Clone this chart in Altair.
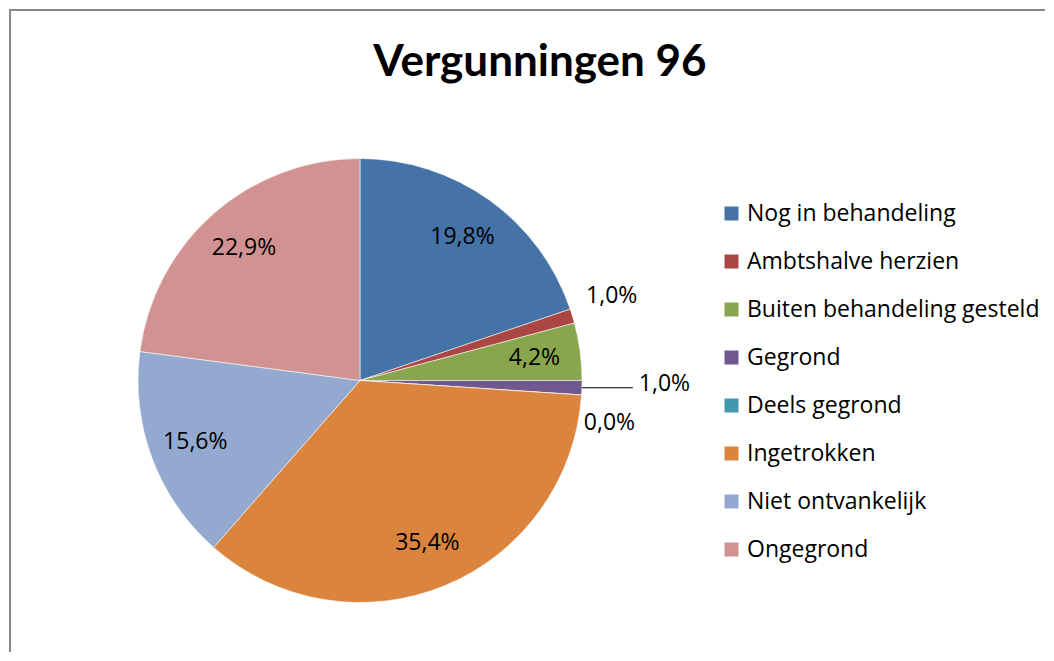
import altair as alt
import pandas as pd

categories = ["Nog in behandeling", "Ambtshalve herzien", "Buiten behandeling gesteld",
              "Gegrond", "Deels gegrond", "Ingetrokken", "Niet ontvankelijk", "Ongegrond"]
counts = [19, 1, 4, 1, 0, 34, 15, 22]
colors = ["#4572A7", "#AA4643", "#89A54E", "#71588F", "#4198AF", "#DB843D", "#93A9CF", "#D19392"]
title_text = "Vergunningen 96"

df = pd.DataFrame({"cat": categories, "count": counts, "idx": list(range(len(categories)))})

W, H = 1036, 644
CX, CY, R = 351, 372.5, 222
FONT = "Open Sans"
FS = 23

color_scale = alt.Scale(domain=categories, range=colors)

base = alt.Chart(df).transform_joinaggregate(
    total="sum(count)"
).transform_calculate(
    inner="datum.count / datum.total >= 0.02 ? replace(format(datum.count / datum.total, '.1%'), '.', ',') : ''",
    amb="datum.cat == 'Ambtshalve herzien' ? replace(format(datum.count / datum.total, '.1%'), '.', ',') : ''",
    geg="datum.cat == 'Gegrond' ? replace(format(datum.count / datum.total, '.1%'), '.', ',') : ''",
    deels="datum.cat == 'Deels gegrond' ? replace(format(datum.count / datum.total, '.1%'), '.', ',') : ''",
).encode(
    theta=alt.Theta("count:Q", stack=True),
    order=alt.Order("idx:Q"),
    x=alt.value(CX),
    y=alt.value(CY),
)

pie = base.mark_arc(radius=R, stroke="white", strokeWidth=0.7, strokeOpacity=0.8).encode(
    color=alt.Color(
        "cat:N", scale=color_scale, sort=categories,
        legend=alt.Legend(
            title=None, orient="none", legendX=711, legendY=194,
            symbolType="square", symbolSize=196, symbolStrokeWidth=0,
            labelFont=FONT, labelFontSize=FS, labelColor="black",
            labelOffset=4, rowPadding=24, labelLimit=400, padding=0,
        ),
    )
)

txt_kw = dict(font=FONT, fontSize=FS, color="black")

inner = base.mark_text(radius=176, align="center", baseline="middle", **txt_kw).encode(
    text="inner:N", detail="cat:N")
amb = base.mark_text(radius=263, align="center", baseline="middle", dy=-8, **txt_kw).encode(
    text="amb:N", detail="cat:N")
geg = base.mark_text(radius=279, align="left", baseline="middle", dy=-6, **txt_kw).encode(
    text="geg:N", detail="cat:N")
deels = base.mark_text(radius=250, align="center", baseline="middle", dy=26, **txt_kw).encode(
    text="deels:N", detail="cat:N")

leader = alt.Chart(df).transform_joinaggregate(
    total="sum(count)"
).transform_window(
    cum="sum(count)", sort=[alt.SortField("idx")], frame=[None, 0]
).transform_calculate(
    mid="(datum.cum - datum.count / 2) / datum.total * 2 * PI",
).transform_calculate(
    lx=f"{CX} + {R} * sin(datum.mid)",
    lx2=f"{CX} + {R} * sin(datum.mid) + 51",
    ly=f"{CY} - {R} * cos(datum.mid)",
).transform_filter(
    alt.datum.cat == "Gegrond"
).mark_rule(color="black", strokeWidth=1.2).encode(
    x=alt.X("lx:Q", scale=None),
    x2="lx2:Q",
    y=alt.Y("ly:Q", scale=None),
)

title = alt.Chart(pd.DataFrame({"t": [title_text]})).mark_text(
    font="Lato", fontSize=44, fontWeight="bold", color="black", align="center", baseline="alphabetic"
).encode(x=alt.value(531), y=alt.value(68), text="t:N")

frame_df = pd.DataFrame({"a": [0]})
border_left = alt.Chart(frame_df).mark_rule(color="#878787", strokeWidth=2).encode(
    x=alt.value(1), y=alt.value(1), y2=alt.value(H))
border_top = alt.Chart(frame_df).mark_rule(color="#878787", strokeWidth=2).encode(
    x=alt.value(0), x2=alt.value(W), y=alt.value(2))

chart = alt.layer(pie, inner, amb, geg, deels, leader, title, border_left, border_top).properties(
    width=W, height=H, padding=0, background="white"
).configure_view(strokeWidth=0, stroke="transparent")

chart.save("out.html", embed_options={"renderer": "svg", "actions": False})
